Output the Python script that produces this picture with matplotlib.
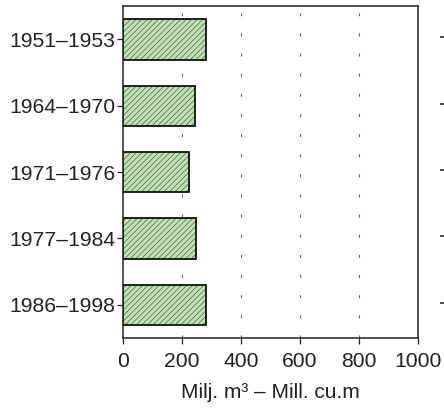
import numpy as np
import matplotlib
matplotlib.use('Agg')
import matplotlib.pyplot as plt
import matplotlib.transforms as mtransforms

periods = ['1951–1953', '1964–1970', '1971–1976', '1977–1984', '1986–1998']
volumes = [280, 245, 223, 249, 283]
xticks = [0, 200, 400, 600, 800, 1000]

plt.rcParams['font.family'] = ['Liberation Sans', 'DejaVu Sans']
plt.rcParams['lines.scale_dashes'] = False
plt.rcParams['hatch.color'] = '#a9d69c'
plt.rcParams['hatch.linewidth'] = 0.3

fig = plt.figure(figsize=(4.44, 4.08), dpi=100)
ax = fig.add_axes([0.277, 0.1716, 0.664, 0.813])

pos = np.arange(len(periods))

# short-dash vertical grid
for x in xticks[1:-1]:
    ax.axvline(x, color='#666666', lw=0.8, dashes=(2.2, 12.3), zorder=0)

ax.barh(pos, volumes, height=0.61, color='#bee3b3', edgecolor='#111111',
        linewidth=1.3, hatch='//////', zorder=2)

ax.set_xlim(0, 1000)
ax.set_ylim(len(periods) - 0.5, -0.5)
ax.set_yticks(pos)
ax.set_yticklabels(periods)
ax.set_xticks(xticks)
ax.set_xticklabels([str(v) for v in xticks])
ax.tick_params(axis='both', labelsize=15.2, length=4, width=0.9,
               colors='#222222', labelcolor='#222222')
ax.tick_params(axis='y', pad=1.5)
ax.tick_params(axis='x', pad=6)
for s in ax.spines.values():
    s.set_linewidth(1.1)
    s.set_color('#222222')

ax.set_xlabel('Milj. m³ – Mill. cu.m', fontsize=15, color='#222222', labelpad=9)

# tick stubs of the neighbouring panel at the right edge
trans = mtransforms.blended_transform_factory(ax.transAxes, ax.transData)
for p in pos:
    ax.plot([1.08, 1.095], [p - 0.03, p - 0.03], transform=trans,
            color='#222222', lw=1.2, clip_on=False)

fig.savefig('out.png', dpi=100)
